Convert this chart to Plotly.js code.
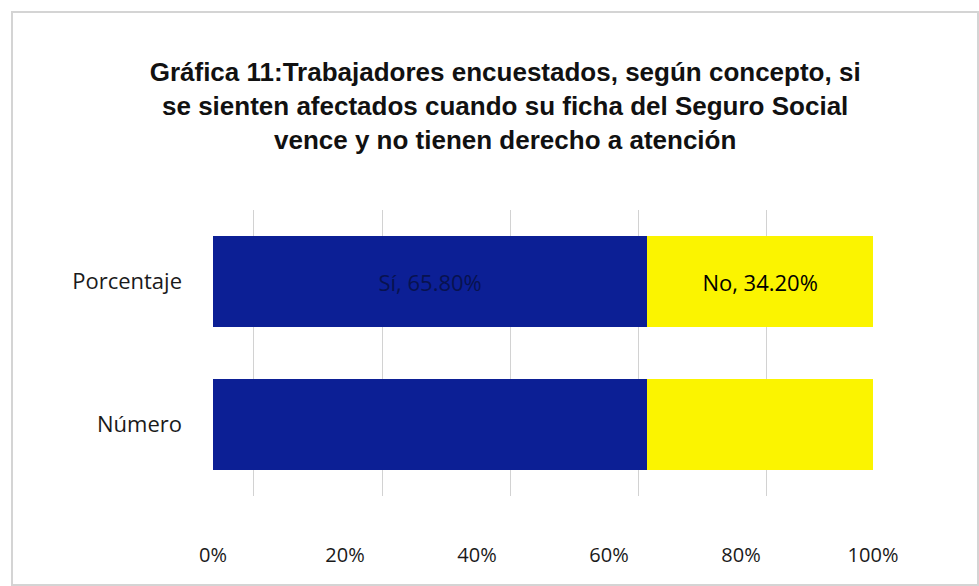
<!DOCTYPE html>
<html>
<head>
<meta charset="utf-8">
<script src="https://cdn.plot.ly/plotly-3.0.1.min.js"></script>
<style>
  html, body { margin: 0; padding: 0; background: #ffffff; }
  #chart { width: 979px; height: 586px; position: relative; }
  #frame { position: absolute; left: 11px; top: 11px; width: 964px; height: 571px; border: 2px solid #d4d4d4; pointer-events: none; }
</style>
</head>
<body>
<div id="chart"></div>
<div id="frame"></div>
<script>
// Data
const categories = ['Número', 'Porcentaje'];
const siValues = [65.8, 65.8];
const noValues = [34.2, 34.2];
const siLabels = ['', 'Sí, 65.80%'];
const noLabels = ['', 'No, 34.20%'];
const tickVals = [0, 20, 40, 60, 80, 100];
const tickText = ['0%', '20%', '40%', '60%', '80%', '100%'];

const labelFont = '"Open Sans", Lato, sans-serif';

const traces = [
  {
    type: 'bar', orientation: 'h', name: 'Sí',
    y: categories, x: siValues, text: siLabels,
    textposition: 'inside', insidetextanchor: 'middle', constraintext: 'none',
    textfont: { family: labelFont, size: 22, color: '#08124f' },
    marker: { color: '#0c1f95' },
    hoverinfo: 'skip'
  },
  {
    type: 'bar', orientation: 'h', name: 'No',
    y: categories, x: noValues, text: noLabels,
    textposition: 'inside', insidetextanchor: 'middle', constraintext: 'none',
    textfont: { family: labelFont, size: 22, color: '#000000' },
    marker: { color: '#fbf400' },
    hoverinfo: 'skip'
  },
  {
    type: 'scatter', mode: 'markers', x: [null], y: [null],
    xaxis: 'x2', yaxis: 'y', showlegend: false, hoverinfo: 'skip'
  }
];

const layout = {
  width: 979, height: 586,
  paper_bgcolor: '#ffffff', plot_bgcolor: 'rgba(0,0,0,0)',
  margin: { l: 213, r: 106, t: 210, b: 90 },
  barmode: 'stack', bargap: 0.36,
  showlegend: false,
  title: {
    text: 'Gráfica 11:Trabajadores encuestados, según concepto, si<br>se sienten afectados cuando su ficha del Seguro Social<br>vence y no tienen derecho a atención',
    font: { family: '"Liberation Sans", Arial, sans-serif', size: 26, color: '#111111', weight: 'bold' },
    x: 0.516, xref: 'container', xanchor: 'center',
    y: 0.861, yref: 'container', yanchor: 'top'
  },
  xaxis: {
    range: [0, 100], tickvals: tickVals, ticktext: tickText,
    showgrid: false, zeroline: false, showline: false, ticks: '',
    ticklabelstandoff: 45,
    tickfont: { family: labelFont, size: 20, color: '#1a1a1a' }
  },
  xaxis2: {
    overlaying: 'x', anchor: 'y', range: [-6.4, 96.7],
    tickvals: [0, 20, 40, 60, 80], showticklabels: false,
    showgrid: true, gridcolor: '#d2d2d2', gridwidth: 1,
    zeroline: false, showline: false, ticks: ''
  },
  yaxis: {
    categoryorder: 'array', categoryarray: categories,
    showgrid: false, zeroline: false, showline: false, ticks: '',
    ticklabelstandoff: 30,
    tickfont: { family: labelFont, size: 22, color: '#1a1a1a' }
  }
};

Plotly.newPlot('chart', traces, layout, { displayModeBar: false, staticPlot: true });
</script>
</body>
</html>
